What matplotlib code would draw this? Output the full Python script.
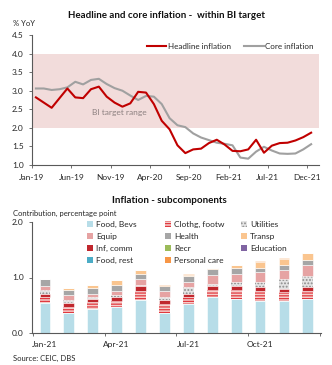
import numpy as np
import matplotlib
matplotlib.use("Agg")
import matplotlib.pyplot as plt
from matplotlib.lines import Line2D
from matplotlib.patches import Patch

plt.rcParams['font.family'] = ['Lato', 'DejaVu Sans']
plt.rcParams['hatch.linewidth'] = 0.9

# ---------------- data: top chart ----------------
months_top = ["Jan-19", "Jun-19", "Nov-19", "Apr-20", "Sep-20", "Feb-21", "Jul-21", "Dec-21"]
headline = [2.82, 2.68, 2.54, 2.80, 3.06, 2.82, 2.80, 3.04, 3.11, 2.84, 2.68, 2.57,
            2.66, 2.97, 2.95, 2.64, 2.19, 1.96, 1.53, 1.32, 1.42, 1.44, 1.59, 1.68,
            1.55, 1.38, 1.37, 1.42, 1.68, 1.33, 1.52, 1.59, 1.60, 1.66, 1.75, 1.87]
core = [3.06, 3.06, 3.02, 3.04, 3.09, 3.24, 3.17, 3.29, 3.32, 3.18, 3.07, 3.00,
        2.87, 2.75, 2.86, 2.84, 2.64, 2.26, 2.07, 2.02, 1.85, 1.74, 1.67, 1.60,
        1.57, 1.53, 1.20, 1.17, 1.36, 1.49, 1.39, 1.31, 1.30, 1.31, 1.42, 1.56]
target_low, target_high = 2.0, 4.0

# ---------------- data: bottom chart ----------------
months_bot = ["Jan-21", "Feb-21", "Mar-21", "Apr-21", "May-21", "Jun-21",
              "Jul-21", "Aug-21", "Sep-21", "Oct-21", "Nov-21", "Dec-21"]
food_bevs = [0.54, 0.36, 0.44, 0.46, 0.60, 0.36, 0.52, 0.64, 0.61, 0.58, 0.58, 0.61]
clothg    = [0.11, 0.11, 0.11, 0.12, 0.16, 0.16, 0.13, 0.14, 0.16, 0.18, 0.15, 0.15]
inf_comm  = [0.06, 0.07, 0.06, 0.07, 0.08, 0.07, 0.06, 0.06, 0.07, 0.07, 0.07, 0.07]
utilities = [0.06, 0.05, 0.04, 0.03, 0.02, 0.05, 0.11, 0.05, 0.08, 0.09, 0.17, 0.19]
equip     = [0.07, 0.09, 0.06, 0.07, 0.11, 0.11, 0.10, 0.15, 0.15, 0.18, 0.17, 0.20]
health    = [0.14, 0.10, 0.10, 0.11, 0.09, 0.10, 0.10, 0.12, 0.10, 0.08, 0.08, 0.09]
transp    = [0.00, 0.03, 0.05, 0.09, 0.08, 0.00, 0.02, 0.02, 0.06, 0.10, 0.12, 0.14]
recr      = [0.0] * 12
education = [0.0] * 12
food_rest = [0.0] * 12
pers_care = [0.00, 0.00, 0.00, 0.01, 0.00, 0.01, 0.02, 0.00, 0.00, 0.02, 0.02, 0.00]
bot_ticks = ["Jan-21", "Apr-21", "Jul-21", "Oct-21"]

W, H = 332, 365
fig = plt.figure(figsize=(W / 100, H / 100), dpi=100)
txtc = '#262626'
spc = '#595959'

# ---------------- top chart ----------------
ax1 = fig.add_axes([32 / W, (H - 165) / H, 287 / W, 130 / H])
ax1.axhspan(target_low, target_high, color='#f2dcdb', lw=0, zorder=0)
x = np.arange(len(headline))
ax1.plot(x, core, color='#a0a0a0', lw=1.5, zorder=2)
ax1.plot(x, headline, color='#c00000', lw=1.5, zorder=3)
ax1.set_xlim(-0.5, 36)
ax1.set_ylim(1.0, 4.5)
ax1.set_yticks(np.arange(1.0, 4.51, 0.5))
ax1.set_yticklabels([f"{v:.1f}" for v in np.arange(1.0, 4.51, 0.5)])
ax1.set_xticks([5 * i - 0.5 for i in range(len(months_top))])
ax1.set_xticklabels(months_top)
ax1.text(10.6, 2.40, "BI target range", ha='center', va='center', fontsize=6, color='#8c8080')
leg1 = ax1.legend(handles=[Line2D([], [], color='#c00000', lw=1.5),
                           Line2D([], [], color='#a0a0a0', lw=1.5)],
                  labels=["Headline inflation", "Core inflation"],
                  loc='upper left', bbox_to_anchor=(147 / W, 1 - 43 / H),
                  bbox_transform=fig.transFigure, ncol=2, frameon=False, fontsize=5.8,
                  handlelength=2.4, handletextpad=0.15, columnspacing=1.7,
                  borderpad=0, borderaxespad=0)
for t in leg1.get_texts():
    t.set_color(txtc)
fig.text(0.503, 1 - 15 / H, "Headline and core inflation -  within BI target",
         ha='center', va='center', fontsize=7, fontweight='bold', color='#111111')
fig.text(13 / W, 1 - 24 / H, "% YoY", ha='left', va='center', fontsize=5.5, color=txtc)

# ---------------- bottom chart ----------------
ax2 = fig.add_axes([32 / W, (H - 333) / H, 289 / W, 111 / H])
xb = np.arange(len(months_bot))
series = [
    ("Food, Bevs", food_bevs, dict(facecolor='#b7dde8', edgecolor='white', lw=0.4)),
    ("Clothg, footw", clothg, dict(facecolor='#f6cfcc', edgecolor='#e03a40', hatch='------', lw=0)),
    ("Inf, comm", inf_comm, dict(facecolor='#c0272d', edgecolor='white', lw=0.4)),
    ("Utilities", utilities, dict(facecolor='#e4e4e4', edgecolor='#8c8c8c', hatch='.....', lw=0)),
    ("Equip", equip, dict(facecolor='#e6a3a3', edgecolor='white', lw=0.4)),
    ("Health", health, dict(facecolor='#a6a6a6', edgecolor='white', lw=0.4)),
    ("Transp", transp, dict(facecolor='#fac58f', edgecolor='white', lw=0.4)),
    ("Recr", recr, dict(facecolor='#9bbb59', edgecolor='white', lw=0.4)),
    ("Education", education, dict(facecolor='#8064a2', edgecolor='white', lw=0.4)),
    ("Food, rest", food_rest, dict(facecolor='#4bacc6', edgecolor='white', lw=0.4)),
    ("Personal care", pers_care, dict(facecolor='#f79646', edgecolor='white', lw=0.4)),
]
bottom = np.zeros(len(months_bot))
handles = {}
for name, vals, kw in series:
    vals = np.array(vals)
    ax2.bar(xb, vals, 0.45, bottom=bottom, **kw)
    hk = dict(kw)
    if 'hatch' not in hk:
        hk['lw'] = 0
    handles[name] = Patch(**hk)
    bottom += vals
ax2.set_xlim(-0.54, 11.55)
ax2.set_ylim(0, 2.0)
ax2.set_yticks([0, 1.0, 2.0])
ax2.set_yticklabels(["0.0", "1.0", "2.0"])
ax2.set_xticks([-0.5, 2.5, 5.5, 8.5, 11.5])
ax2.set_xticklabels([])
ax2.set_xticks([0, 3, 6, 9], minor=True)
ax2.set_xticklabels(bot_ticks, minor=True)
ax2.tick_params(axis='x', which='minor', length=0, pad=6)

columns = [(87, ["Food, Bevs", "Equip", "Inf, comm", "Food, rest"]),
           (165, ["Clothg, footw", "Health", "Recr", "Personal care"]),
           (241, ["Utilities", "Transp", "Education"])]
legs = []
for xpx, names in columns:
    lg = ax2.legend([handles[n] for n in names], names, loc='upper left',
                    bbox_to_anchor=(xpx / W, 1 - 221 / H), bbox_transform=fig.transFigure,
                    ncol=1, frameon=False, fontsize=6, handlelength=0.7, handleheight=0.7,
                    handletextpad=0.4, labelspacing=0.6, borderpad=0, borderaxespad=0)
    for t in lg.get_texts():
        t.set_color(txtc)
    legs.append(lg)
for lg in legs[:-1]:
    ax2.add_artist(lg)

fig.text(0.51, 1 - 201 / H, "Inflation - subcomponents", ha='center', va='center',
         fontsize=7, fontweight='bold', color='#111111')
fig.text(13 / W, 1 - 213 / H, "Contribution, percentage point", ha='left', va='center',
         fontsize=5.5, color=txtc)
fig.text(13 / W, 1 - 358 / H, "Source: CEIC, DBS", ha='left', va='center',
         fontsize=5.5, color=txtc)

for ax in (ax1, ax2):
    for s in ('top', 'right'):
        ax.spines[s].set_visible(False)
    for s in ('left', 'bottom'):
        ax.spines[s].set_color(spc)
        ax.spines[s].set_linewidth(0.8)
    ax.tick_params(axis='both', which='major', labelsize=6, colors=spc, labelcolor=txtc,
                   length=2.5, width=0.6)
    ax.tick_params(axis='x', which='minor', labelsize=6, labelcolor=txtc)
ax1.tick_params(axis='x', pad=4)

fig.savefig("out.png", dpi=100)
